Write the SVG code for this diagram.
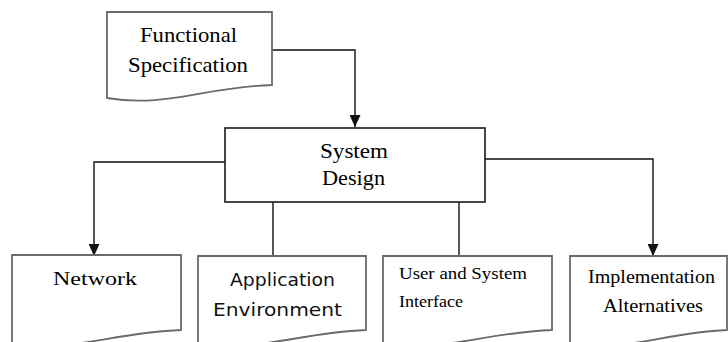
<svg xmlns="http://www.w3.org/2000/svg" width="728" height="342" viewBox="0 0 728 342">
  <style>
    .doc { fill: #ffffff; stroke: #6a6a6a; stroke-width: 1.8; stroke-linejoin: miter; }
    .box { fill: #ffffff; stroke: #1a1a1a; stroke-width: 1.6; }
    .wire { fill: none; stroke: #111111; stroke-width: 1.4; }
    .serif { font-family: "Liberation Serif", "Times New Roman", serif; fill: #000000; }
    .sans { font-family: "DejaVu Sans", "Liberation Sans", sans-serif; fill: #111111; }
  </style>
  <defs>
    <marker id="arrow" viewBox="0 0 12 11" refX="12" refY="5.5" markerWidth="12" markerHeight="11" markerUnits="userSpaceOnUse" orient="auto">
      <path d="M0,0 L12,5.5 L0,11 Z" fill="#111111"/>
    </marker>
  </defs>
  <rect width="728" height="342" fill="#ffffff"/>

  <!-- connectors -->
  <g id="connectors">
    <polyline class="wire" points="272,50 355,50 355,127" marker-end="url(#arrow)"/>
    <polyline class="wire" points="225,162 94,162 94,256" marker-end="url(#arrow)"/>
    <polyline class="wire" points="485,159 653,159 653,256" marker-end="url(#arrow)"/>
    <line class="wire" x1="273" y1="202" x2="273" y2="256"/>
    <line class="wire" x1="459" y1="202" x2="459" y2="256"/>
  </g>

  <!-- input document -->
  <g id="functional-specification">
    <path class="doc" d="M107,12 H272 V85 C205,87 165,108 107,98 Z"/>
    <text class="serif" font-size="22" x="188.5" y="42" text-anchor="middle" textLength="97" lengthAdjust="spacingAndGlyphs">Functional</text>
    <text class="serif" font-size="22" x="188" y="72" text-anchor="middle" textLength="120" lengthAdjust="spacingAndGlyphs">Specification</text>
  </g>

  <!-- process node -->
  <g id="system-design">
    <rect class="box" x="225" y="128" width="260" height="74"/>
    <text class="serif" font-size="22" x="354" y="158" text-anchor="middle" textLength="68" lengthAdjust="spacingAndGlyphs">System</text>
    <text class="serif" font-size="22" x="353.5" y="185" text-anchor="middle" textLength="63" lengthAdjust="spacingAndGlyphs">Design</text>
  </g>

  <!-- output documents -->
  <g id="network">
    <path class="doc" d="M12,255 H181 V330 C110,333 75,352 12,344 Z"/>
    <text class="serif" font-size="19" x="95" y="285" text-anchor="middle" textLength="84" lengthAdjust="spacingAndGlyphs">Network</text>
  </g>

  <g id="application-environment">
    <path class="doc" d="M198,256 H366 V330 C296,333 262,352 198,344 Z"/>
    <text class="sans" font-size="18" x="282.5" y="286" text-anchor="middle" textLength="105" lengthAdjust="spacingAndGlyphs">Application</text>
    <text class="sans" font-size="18" x="277.5" y="316" text-anchor="middle" textLength="129" lengthAdjust="spacingAndGlyphs">Environment</text>
  </g>

  <g id="user-and-system-interface">
    <path class="doc" d="M383,256 H552 V330 C481,333 446,352 383,344 Z"/>
    <text class="serif" font-size="17" x="399" y="279" textLength="128" lengthAdjust="spacingAndGlyphs">User and System</text>
    <text class="serif" font-size="17" x="399" y="307" textLength="64" lengthAdjust="spacingAndGlyphs">Interface</text>
  </g>

  <g id="implementation-alternatives">
    <path class="doc" d="M570,256 H727 V330 C661,333 629,352 570,344 Z"/>
    <text class="serif" font-size="18" x="651.5" y="283" text-anchor="middle" textLength="127" lengthAdjust="spacingAndGlyphs">Implementation</text>
    <text class="serif" font-size="18" x="653" y="312" text-anchor="middle" textLength="100" lengthAdjust="spacingAndGlyphs">Alternatives</text>
  </g>
</svg>
